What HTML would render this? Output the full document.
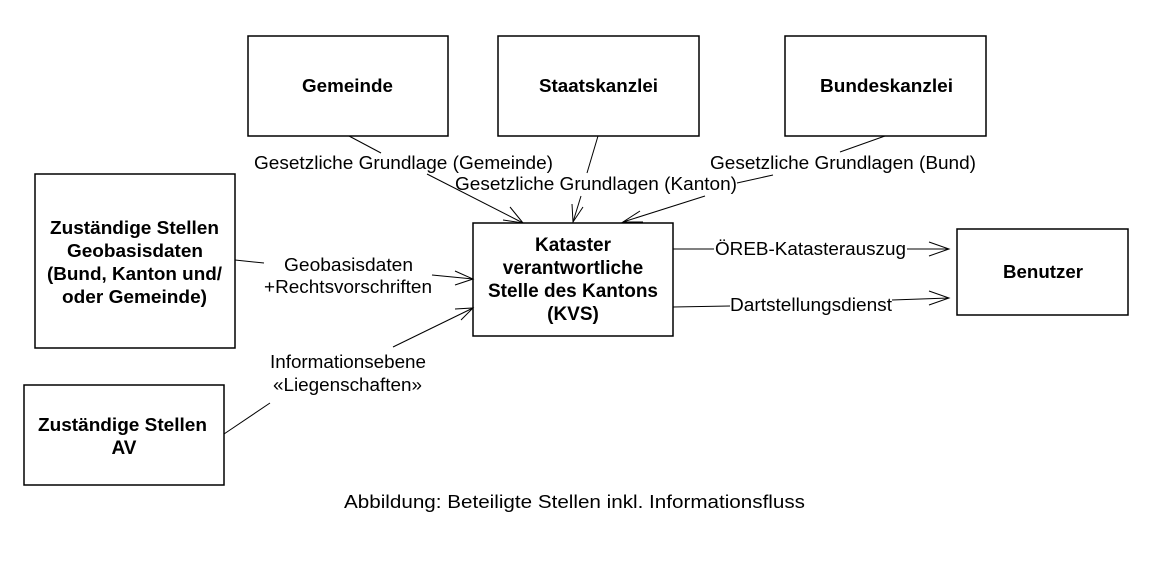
<!DOCTYPE html>
<html><head><meta charset="utf-8"><style>
html,body{margin:0;padding:0;background:#fff;}
svg{display:block;}
text{font-family:"Liberation Sans",Arial,sans-serif;fill:#000;}
.b{font-weight:bold;font-size:18px;}
.l{font-size:18px;}
</style></head><body>
<svg width="1170" height="568" viewBox="0 0 1170 568" xmlns="http://www.w3.org/2000/svg">
<g fill="none" stroke="#000" stroke-width="1.5">
<rect x="248" y="36" width="200" height="100"/>
<rect x="498" y="36" width="201" height="100"/>
<rect x="785" y="36" width="201" height="100"/>
<rect x="35" y="174" width="200" height="174"/>
<rect x="473" y="223" width="200" height="113"/>
<rect x="957" y="229" width="171" height="86"/>
<rect x="24" y="385" width="200" height="100"/>
</g>
<g fill="none" stroke="#000" stroke-width="1">
<line x1="349" y1="136" x2="381" y2="153"/>
<line x1="427" y1="174" x2="523" y2="223"/>
<polyline points="510,207 523,223 503,220"/>
<line x1="598" y1="136" x2="587" y2="173"/>
<line x1="581" y1="196" x2="573" y2="222"/>
<polyline points="572,204 573,222 583,207"/>
<line x1="885" y1="136" x2="840" y2="152"/>
<line x1="773" y1="175" x2="737" y2="183"/>
<line x1="705" y1="196" x2="623" y2="222"/>
<polyline points="640,211 623,222 643,222"/>
<line x1="235" y1="260" x2="264" y2="263"/>
<line x1="432" y1="275" x2="473" y2="279"/>
<polyline points="455,271 473,279 455,285"/>
<line x1="224" y1="434" x2="270" y2="403"/>
<line x1="393" y1="347" x2="473" y2="308"/>
<polyline points="455,309 473,308 461,320"/>
<line x1="673" y1="249" x2="714" y2="249"/>
<line x1="907" y1="249" x2="949" y2="249"/>
<polyline points="929,242 949,249 929,256"/>
<line x1="673" y1="307" x2="730" y2="306"/>
<line x1="892" y1="300" x2="949" y2="298"/>
<polyline points="929,291 949,298 929,305"/>
</g>
<g class="b">
<text x="302" y="92" textLength="91" lengthAdjust="spacingAndGlyphs">Gemeinde</text>
<text x="539" y="92" textLength="119" lengthAdjust="spacingAndGlyphs">Staatskanzlei</text>
<text x="820" y="92" textLength="133" lengthAdjust="spacingAndGlyphs">Bundeskanzlei</text>
<text x="50" y="234" textLength="169" lengthAdjust="spacingAndGlyphs">Zuständige Stellen</text>
<text x="67" y="257" textLength="136" lengthAdjust="spacingAndGlyphs">Geobasisdaten</text>
<text x="47" y="280" textLength="175" lengthAdjust="spacingAndGlyphs">(Bund, Kanton und/</text>
<text x="62" y="303" textLength="145" lengthAdjust="spacingAndGlyphs">oder Gemeinde)</text>
<text x="1003" y="278" textLength="80" lengthAdjust="spacingAndGlyphs">Benutzer</text>
<text x="38" y="431" textLength="169" lengthAdjust="spacingAndGlyphs">Zuständige Stellen</text>
</g>
<g class="b" text-anchor="middle" style="font-size:19px">
<text x="573" y="251">Kataster</text>
<text x="573" y="274">verantwortliche</text>
<text x="573" y="297">Stelle des Kantons</text>
<text x="573" y="320">(KVS)</text>
<text x="124" y="454">AV</text>
</g>
<g class="l">
<text x="254" y="169" textLength="299" lengthAdjust="spacingAndGlyphs">Gesetzliche Grundlage (Gemeinde)</text>
<text x="455" y="190" textLength="282" lengthAdjust="spacingAndGlyphs">Gesetzliche Grundlagen (Kanton)</text>
<text x="710" y="169" textLength="266" lengthAdjust="spacingAndGlyphs">Gesetzliche Grundlagen (Bund)</text>
<text x="284" y="271" textLength="129" lengthAdjust="spacingAndGlyphs">Geobasisdaten</text>
<text x="264" y="293" textLength="168" lengthAdjust="spacingAndGlyphs">+Rechtsvorschriften</text>
<text x="270" y="368" textLength="156" lengthAdjust="spacingAndGlyphs">Informationsebene</text>
<text x="273" y="391" textLength="149" lengthAdjust="spacingAndGlyphs">«Liegenschaften»</text>
<text x="715" y="255" textLength="191" lengthAdjust="spacingAndGlyphs">ÖREB-Katasterauszug</text>
<text x="730" y="311" textLength="162" lengthAdjust="spacingAndGlyphs">Dartstellungsdienst</text>
<text x="344" y="508" textLength="461" lengthAdjust="spacingAndGlyphs">Abbildung: Beteiligte Stellen inkl. Informationsfluss</text>
</g>
</svg>
</body></html>
